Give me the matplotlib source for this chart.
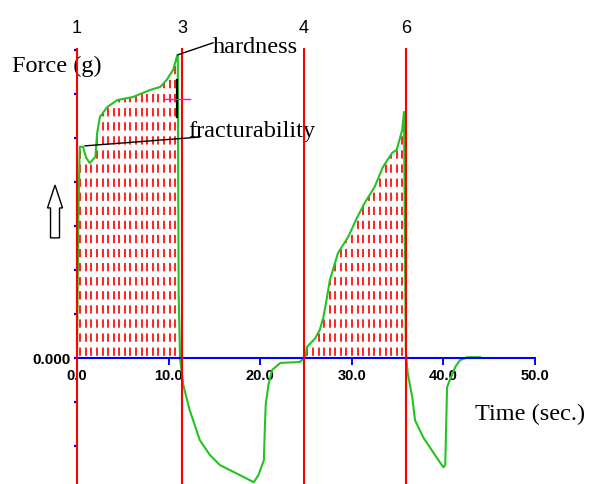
import numpy as np
import matplotlib
matplotlib.use("Agg")
import matplotlib.pyplot as plt
from matplotlib.patches import Polygon, FancyArrow

# Curva forza/tempo (due cicli di compressione)
tempo = [0.0, 0.15, 0.3, 0.65, 1.0, 1.4, 2.0, 2.2, 2.5, 3.3, 4.4, 6.1, 8.0, 9.1, 9.8, 10.5, 10.9, 11.0,
         11.1, 11.25, 11.6, 12.3, 13.4, 14.5, 15.6, 17.8, 19.3, 19.8, 20.4, 20.5, 20.6, 20.9, 21.3, 22.2, 24.3,
         24.8, 24.9, 25.1, 26.0, 26.5, 26.9, 27.3, 27.6, 28.5, 29.6, 30.6, 31.4, 32.5, 33.4, 34.4, 34.9, 35.5, 35.7,
         35.8, 35.9, 36.1, 36.6, 36.9, 37.8, 38.5, 39.3, 40.0, 40.2, 40.4, 40.7, 41.3, 41.8, 42.6, 44.0]
forza = [0, 330, 480, 480, 455, 443, 457, 511, 548, 570, 586, 593, 609, 616, 632, 655, 684, 689,
         143, 0, -61, -118, -186, -220, -243, -266, -282, -266, -232, -164, -107, -61, -27, -11, -9,
         0, 2, 25, 45, 64, 93, 139, 177, 239, 275, 320, 352, 389, 434, 466, 473, 518, 559,
         261, 15, -34, -89, -141, -180, -202, -227, -248, -243, -66, -50, -20, -5, 2, 2]

# Linee verticali dei punti di riferimento
marker_tempi = [0.0, 11.46, 24.78, 35.9]
marker_nomi = ["1", "3", "4", "6"]

# Intervalli delle aree tratteggiate
aree = [(0.0, 11.25), (24.8, 35.9)]

x_ticks = [0, 10, 20, 30, 40, 50]
x_labels = ["0.0", "10.0", "20.0", "30.0", "40.0", "50.0"]
y_ticks = [-200, -100, 0, 100, 200, 300, 400, 500, 600, 700]

SERIF = "Liberation Serif"
SANS = "Liberation Sans"

tempo = np.array(tempo)
forza = np.array(forza)

fig = plt.figure(figsize=(5.92, 4.84), dpi=100)
ax = fig.add_axes([77 / 592, 0, 458 / 592, 435 / 484])
ax.set_xlim(0, 50)
ax.set_ylim(-286, 702)

for s in ["top", "right", "left"]:
    ax.spines[s].set_visible(False)
ax.spines["bottom"].set_position(("data", 0))
ax.spines["bottom"].set_color("#0000ff")
ax.spines["bottom"].set_linewidth(1.5)
ax.spines["bottom"].set_zorder(4)

ax.set_xticks(x_ticks)
ax.set_xticklabels(x_labels, fontfamily=SANS, fontweight="bold", fontsize=10.5)
ax.tick_params(axis="x", direction="out", length=4.7, width=1.4, color="#0000ff", pad=3)

ax.set_yticks(y_ticks)
ax.set_yticklabels(["0.000" if v == 0 else "" for v in y_ticks], fontfamily=SANS,
                   fontweight="bold", fontsize=11)
ax.tick_params(axis="y", direction="out", length=2.5, width=1.6, color="#0000ff", pad=2)

# Aree tratteggiate sotto la curva
for t0, t1 in aree:
    m = (tempo >= t0) & (tempo <= t1)
    pts = np.column_stack([tempo[m], forza[m]])
    pts = np.vstack([[t0, 0], pts, [pts[-1, 0], 0]])
    poly = Polygon(pts, closed=True, facecolor="none", edgecolor="none")
    ax.add_patch(poly)
    xs = np.arange(t0 + 0.35, t1, 0.61)
    vl = ax.vlines(xs, 0, 702, colors="#ff1010", linewidth=1.3,
                   linestyles=[(6.6, (4.6, 3.2))], zorder=2)
    vl.set_clip_path(poly)

ax.plot(tempo, forza, color="#22c322", linewidth=1.5, zorder=3)

for tc, nome in zip(marker_tempi, marker_nomi):
    ax.axvline(tc, color="#ff0000", linewidth=1.5, zorder=5, clip_on=False)
    ax.text(tc, 1.048, nome, transform=ax.get_xaxis_transform(), ha="center", va="center",
            fontfamily=SANS, fontsize=13, clip_on=False)

# Annotazioni
ax.plot([11.03, 14.85], [689, 716], color="black", linewidth=1.0, clip_on=False, zorder=6)
ax.plot([0.87, 13.4], [482, 502], color="black", linewidth=1.0, clip_on=False, zorder=6)
ax.plot([10.9, 10.9], [548, 632], color="black", linewidth=1.6, zorder=6)
ax.plot([9.6, 12.3], [589, 589], color="#ff00ff", linewidth=1.0, zorder=6)

ax.text(14.85, 693, "hardness", fontfamily=SERIF, fontsize=17.5, ha="left", va="baseline",
        clip_on=False)
ax.text(12.1, 502, "fracturability", fontfamily=SERIF, fontsize=17.5, ha="left", va="baseline",
        clip_on=False)
ax.text(-7.1, 650, "Force (g)", fontfamily=SERIF, fontsize=17.5, ha="left", va="baseline",
        clip_on=False)
ax.text(43.45, -141, "Time (sec.)", fontfamily=SERIF, fontsize=17.5, ha="left", va="baseline",
        clip_on=False)

freccia = FancyArrow(-2.4, 273, 0, 120, width=0.98, head_width=1.64, head_length=52,
                     length_includes_head=True, facecolor="white", edgecolor="black",
                     linewidth=1.0, clip_on=False)
ax.add_patch(freccia)

fig.savefig("out.png", dpi=100)
